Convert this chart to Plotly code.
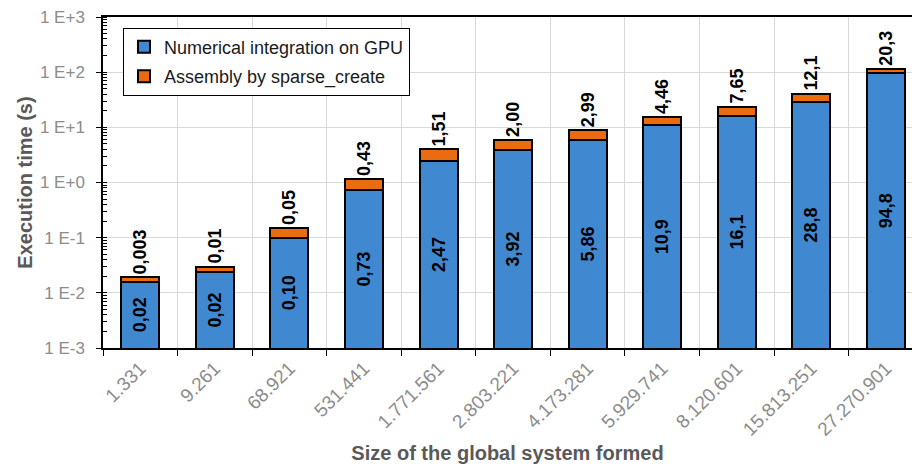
import plotly.graph_objects as go

# Problem sizes (labels of the x categories)
sizes = ["1.331", "9.261", "68.921", "531.441", "1.771.561", "2.803.221",
         "4.173.281", "5.929.741", "8.120.601", "15.813.251", "27.270.901"]

# Execution times in seconds
gpu_integration = [0.016, 0.024, 0.10, 0.73, 2.47, 3.92, 5.86, 10.9, 16.1, 28.8, 94.8]
sparse_assembly = [0.003, 0.006, 0.05, 0.43, 1.51, 2.00, 2.99, 4.46, 7.65, 12.1, 20.3]

# Number formats of the value labels
gpu_fmt = ["%{y:.2f}"] * 7 + ["%{y:.1f}"] * 4
asm_fmt = ["%{y:.3f}"] + ["%{y:.2f}"] * 8 + ["%{y:.1f}"] * 2

# Log-axis ticks
ytick_vals = [1e-3, 1e-2, 1e-1, 1e0, 1e1, 1e2, 1e3]
ytick_text = ["1 E-3", "1 E-2", "1 E-1", "1 E+0", "1 E+1", "1 E+2", "1 E+3"]

FONT = "Arial, Liberation Sans, sans-serif"
label_font = dict(family=FONT, size=18, color="black", weight="bold")

fig = go.Figure()
fig.add_trace(go.Bar(
    x=sizes, y=gpu_integration, name="Numerical integration on GPU",
    legendgroup="a",
    marker=dict(color="#4089d1", line=dict(color="black", width=2)),
    width=0.51,
    texttemplate=gpu_fmt, textposition="inside", insidetextanchor="middle",
    textangle=-90, insidetextfont=label_font, constraintext="none",
))
fig.add_trace(go.Bar(
    x=sizes, y=sparse_assembly, name="Assembly by sparse_create",
    legendgroup="b",
    marker=dict(color="#eb6c10", line=dict(color="black", width=2)),
    width=0.51,
    texttemplate=asm_fmt, textposition="outside",
    textangle=-90, outsidetextfont=label_font, constraintext="none",
    cliponaxis=False,
))

fig.update_layout(
    width=912, height=464,
    margin=dict(l=103, r=0, t=17, b=116),
    barmode="stack",
    separators=",.",
    plot_bgcolor="white", paper_bgcolor="white",
    font=dict(family=FONT, size=17, color="#8c8c8c"),
    showlegend=True,
    legend=dict(
        x=0.0247, y=0.968, xanchor="left", yanchor="top",
        bgcolor="white", bordercolor="black", borderwidth=1,
        font=dict(family=FONT, size=18, color="#1a1a1a"),
        traceorder="grouped", tracegroupgap=3, itemwidth=30,
    ),
    xaxis=dict(
        type="category", range=[-0.5, 10.35],
        tickson="boundaries", ticks="outside", ticklen=6, tickcolor="black",
        showgrid=True, gridcolor="#d9d9d9", gridwidth=1,
        showline=True, linecolor="black", linewidth=1.5, mirror=True,
        tickangle=-45, tickfont=dict(size=19, color="#8c8c8c"),
        title=dict(text="Size of the global system formed", standoff=9,
                   font=dict(family=FONT, size=20, color="#595959", weight="bold")),
    ),
    yaxis=dict(
        type="log", range=[-3, 3],
        tickvals=ytick_vals, ticktext=ytick_text,
        ticks="outside", ticklen=5, tickcolor="black",
        ticklabelstandoff=8,
        minor=dict(ticks="inside", ticklen=4, tickcolor="black", dtick="D1", showgrid=False),
        showgrid=True, gridcolor="#d9d9d9", gridwidth=1,
        showline=True, linecolor="black", linewidth=1.5,
        zeroline=False,
        tickfont=dict(size=17, color="#8c8c8c"),
        title=dict(text="Execution time (s)", standoff=2,
                   font=dict(family=FONT, size=20, color="#595959", weight="bold")),
    ),
)

fig.write_html("out.html")
